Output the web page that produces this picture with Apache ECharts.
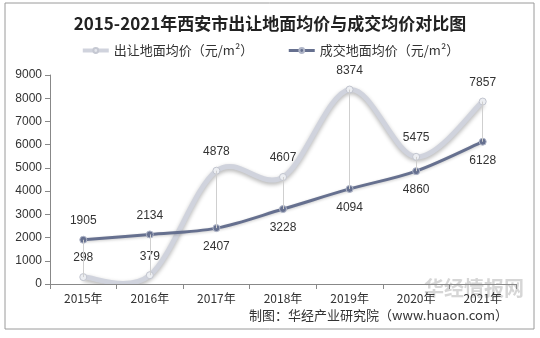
<!DOCTYPE html>
<html><head><meta charset="utf-8">
<script src="https://cdn.jsdelivr.net/npm/echarts@6/dist/echarts.min.js"></script>
<style>html,body{margin:0;padding:0;background:#fff}#c{width:540px;height:338px}</style>
</head><body><div id="c"></div>
<script>
const categories = ['2015年','2016年','2017年','2018年','2019年','2020年','2021年'];
const landPrice = [298, 379, 4878, 4607, 8374, 5475, 7857];
const dealPrice = [1905, 2134, 2407, 3228, 4094, 4860, 6128];
const dealLabelPos = ['top','top','bottom','bottom','bottom','bottom','bottom'];
const yTicks = {min: 0, max: 9000, interval: 1000};
const names = ['出让地面均价（元/m²）', '成交地面均价（元/m²）'];

const LIGHT = '#d0d3dd', DARK = '#66708f';

function smoothPath(api, values) {
  const pts = values.map((v, i) => api.coord([i, v]));
  let d = 'M' + pts[0][0] + ' ' + pts[0][1];
  for (let i = 0; i < pts.length - 1; i++) {
    const p0 = pts[Math.max(0, i - 1)], p1 = pts[i], p2 = pts[i + 1], p3 = pts[Math.min(pts.length - 1, i + 2)];
    const c1 = [p1[0] + (p2[0] - p0[0]) / 6, p1[1] + (p2[1] - p0[1]) / 6];
    const c2 = [p2[0] - (p3[0] - p1[0]) / 6, p2[1] - (p3[1] - p1[1]) / 6];
    d += ' C' + c1[0] + ' ' + c1[1] + ' ' + c2[0] + ' ' + c2[1] + ' ' + p2[0] + ' ' + p2[1];
  }
  return d;
}
function curveSeries(values, style, z) {
  return {
    type: 'custom', silent: true, clip: true, z: z,
    data: [0],
    renderItem: (params, api) => ({type: 'path', shape: {pathData: smoothPath(api, values)}, style: Object.assign({fill: 'none'}, style)})
  };
}

const chart = echarts.init(document.getElementById('c'));
const dropLines = categories.map((c, i) => [{coord: [c, landPrice[i]]}, {coord: [c, dealPrice[i]]}]);
chart.setOption({
  animation: false,
  backgroundColor: '#fff',
  graphic: [
    {type: 'rect', shape: {x: 5, y: 3, width: 529, height: 326}, style: {fill: 'none', stroke: '#9a9a9a', lineWidth: 1}, z: -1},
    {type: 'text', left: 424, top: 278, z: 0, style: {text: '华经情报网', fill: 'rgba(180,180,180,0.55)', font: 'bold 20px "Noto Sans CJK SC"'}},
    {type: 'text', right: 32, top: 309, style: {text: '制图：华经产业研究院（www.huaon.com）', fill: '#333', font: '13px "Noto Sans CJK SC"'}}
  ],
  title: {text: '2015-2021年西安市出让地面均价与成交均价对比图', left: 'center', top: 10,
    textStyle: {fontFamily: 'Noto Sans CJK SC', fontWeight: 'bold', fontSize: 17, color: '#222'}},
  legend: {top: 39, left: 'center', itemGap: 34, itemWidth: 26, itemHeight: 6,
    textStyle: {fontFamily: 'Noto Sans CJK SC', fontSize: 13, color: '#333'},
    data: [
      {name: names[0], lineStyle: {width: 4, color: LIGHT, opacity: 1}, itemStyle: {color: '#e4e6ec', borderColor: '#c5c8d2'}},
      {name: names[1], lineStyle: {width: 3, color: DARK, opacity: 1}, itemStyle: {color: DARK}}
    ]},
  grid: {left: 50, right: 24, top: 75, bottom: 54},
  xAxis: {type: 'category', data: categories, boundaryGap: true, z: 5,
    axisLine: {lineStyle: {color: '#888'}}, axisTick: {show: true, lineStyle: {color: '#888'}},
    axisLabel: {color: '#333', fontSize: 12, fontFamily: 'Noto Sans CJK SC', margin: 8}},
  yAxis: {type: 'value', min: yTicks.min, max: yTicks.max, interval: yTicks.interval,
    axisLine: {show: true, lineStyle: {color: '#888'}}, axisTick: {show: true, lineStyle: {color: '#888'}},
    splitLine: {show: false}, axisLabel: {color: '#333', fontSize: 12, fontFamily: 'Liberation Sans', formatter: v => String(v)}},
  series: [
    {name: names[0], type: 'line', data: landPrice,
      symbol: 'circle', symbolSize: 7, color: LIGHT,
      lineStyle: {width: 0, opacity: 0},
      itemStyle: {color: '#eceef2', borderColor: '#c2c5cf', borderWidth: 1},
      label: {show: true, position: 'top', distance: 9, color: '#333', fontSize: 12, fontFamily: 'Liberation Sans'},
      markLine: {symbol: 'none', silent: true, label: {show: false}, lineStyle: {color: '#cfcfcf', width: 1, type: 'solid'}, data: dropLines},
      z: 4},
    {name: names[1], type: 'line',
      data: dealPrice.map((v, i) => ({value: v, label: {position: dealLabelPos[i]}})),
      symbol: 'circle', symbolSize: 7, color: DARK,
      lineStyle: {width: 0, opacity: 0},
      itemStyle: {color: DARK, borderColor: '#b0b6c8', borderWidth: 1},
      label: {show: true, color: '#333', fontSize: 12, fontFamily: 'Liberation Sans', distance: 9},
      z: 4},
    curveSeries(landPrice, {stroke: LIGHT, lineWidth: 5, shadowColor: 'rgba(0,0,0,0.3)', shadowBlur: 4, shadowOffsetY: 2}, 2),
    curveSeries(dealPrice, {stroke: DARK, lineWidth: 3, shadowColor: 'rgba(0,0,0,0.2)', shadowBlur: 3, shadowOffsetY: 1}, 3)
  ]
});
</script></body></html>
